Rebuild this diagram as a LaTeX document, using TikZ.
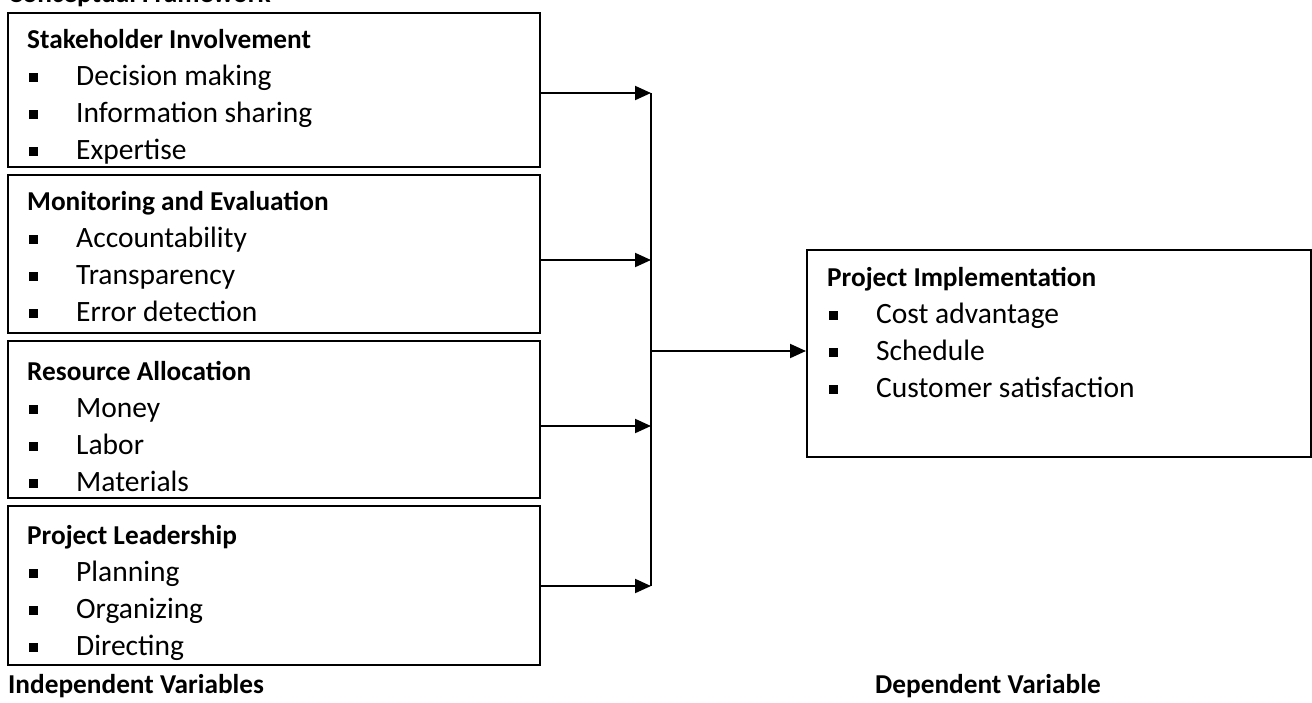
\documentclass[tikz,border=0pt]{standalone}
\usepackage{fontspec}
\setmainfont{Carlito}
\usetikzlibrary{arrows.meta}
\usetikzlibrary{positioning}
\newcommand{\boxfont}{\fontsize{29.5}{35}\selectfont}
\newcommand{\headfont}{\fontsize{27.3}{33}\selectfont\bfseries}
\newcommand{\sqbullet}{\rule[3.5pt]{8.5pt}{8.5pt}\hspace{38.5pt}}
\tikzset{%
  varbox/.style={
    draw,
    line width=1.9pt,
    anchor=north west,
    minimum width=532pt,
    inner sep=0pt
  },
  boxhead/.style={anchor=base west, inner sep=0pt, font=\headfont},
  boxitem/.style={anchor=base west, inner sep=0pt, font=\boxfont},
  axislabel/.style={anchor=base west, inner sep=0pt, font=\headfont},
  link/.style={-{Triangle[length=16pt,width=14pt]}, line width=2pt},
}
\begin{document}
\begin{tikzpicture}[x=1pt, y=-1pt]

    \useasboundingbox (0,0) rectangle (1312,702);

    \node [axislabel] (frame) at (8,2) {Conceptual Framework};

    % independent variables
    \foreach \n/\ytop/\bh/\ya/\ttl/\ia/\ib/\ic in {
        stake/12/154/48/Stakeholder Involvement/Decision making/Information sharing/Expertise,
        monit/174/158/210/Monitoring and Evaluation/Accountability/Transparency/Error detection,
        resalloc/340/157/380/Resource Allocation/Money/Labor/Materials,
        leader/505/159/544/Project Leadership/Planning/Organizing/Directing}
    {
        \node [varbox, minimum height=\bh pt] (\n) at (7,\ytop) {};
        \begin{scope}
            \clip ([shift={(2,2)}]\n.north west) rectangle ([shift={(-2,-2)}]\n.south east);
            \node [boxhead] (\n-head) at (27,\ya) {\ttl};
            \foreach \entry [count=\k] in {\ia,\ib,\ic}
                \node [boxitem] (\n-\k) at (29,\ya+37*\k) {\sqbullet\entry};
        \end{scope}
    }

    % dependent variable
    \node [varbox, minimum width=504pt, minimum height=207pt] (impl) at (806,249) {};
    \node [boxhead] (impl-head) at (827,286) {Project Implementation};
    \foreach \entry [count=\k] in {Cost advantage, Schedule, Customer satisfaction}
        \node [boxitem] (impl-\k) at (829,286+37*\k) {\sqbullet\entry};

    % connectors
    \foreach \n/\y [count=\i] in {stake/93, monit/260, resalloc/426, leader/586} {
        \coordinate (join-\i) at (651,\y);
        \draw [link] (\n.east |- join-\i) -- (join-\i);
    }
    \draw [line width=2pt] (join-1) -- (join-4);
    \coordinate (join-mid) at (651,351);
    \draw [link] (join-mid) -- (impl.west |- join-mid);

    \node [axislabel] (indep) at (8,693) {Independent Variables};
    \node [axislabel] (dep) at (875,693) {Dependent Variable};

\end{tikzpicture}
\end{document}
